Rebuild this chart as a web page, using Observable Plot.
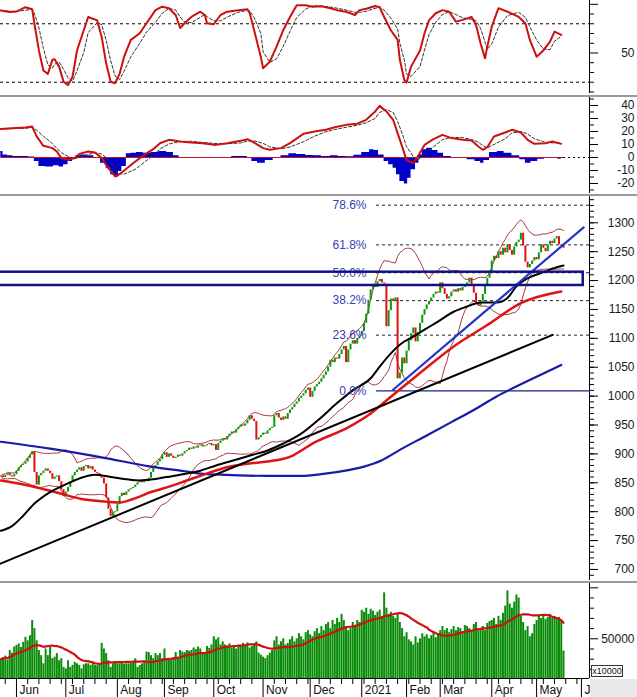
<!DOCTYPE html>
<html><head><meta charset="utf-8">
<script src="https://cdn.jsdelivr.net/npm/d3@7"></script>
<script src="https://cdn.jsdelivr.net/npm/@observablehq/plot@0.6"></script>
<style>
html,body{margin:0;padding:0;background:#fff;}
#chart{position:relative;width:637px;height:697px;overflow:hidden;font-family:"Liberation Sans",Arial,Helvetica,sans-serif;background:#fff;}
.sep{position:absolute;left:0;width:637px;height:2px;background:#9a9a9a;}
.unit{position:absolute;left:591px;top:665px;width:32px;height:12px;box-sizing:border-box;border:1px solid #333;font-size:9px;line-height:10px;text-align:center;color:#111;background:#fff;}
.corner{position:absolute;left:590px;top:679px;width:47px;height:18px;background:#e9e9e9;}
</style></head>
<body><div id="chart"></div>
<script>
// ---------- DATA ----------
// trading-day index 0 = 21 May 2020
const closes = [
862,859,863,866,862,860,864,870,876,880,
882,886,892,898,904,868,846,862,866,870,
874,870,866,856,860,862,852,838,826,834,
842,852,862,868,872,876,870,878,880,874,
878,872,868,866,862,858,848,824,804,792,
798,800,812,826,832,828,834,838,840,842,
846,850,852,850,854,852,858,868,876,880,
886,890,898,902,894,900,896,892,894,898,
896,900,904,906,910,908,912,910,914,916,
912,914,916,918,914,916,906,918,922,926,
924,930,934,938,936,942,946,950,948,952,
958,966,960,956,924,928,932,936,934,940,
944,946,966,970,962,958,964,960,970,976,
980,986,990,996,1000,1004,1010,1014,998,1008,
1016,1020,1024,1030,1036,1042,1050,1062,1058,1066,
1064,1072,1080,1086,1058,1080,1090,1096,1090,1100,
1104,1112,1126,1142,1166,1184,1192,1188,1198,1202,
1196,1194,1120,1148,1168,1164,1170,1030,1040,1066,
1056,1078,1096,1108,1118,1094,1110,1126,1140,1150,
1158,1164,1170,1176,1180,1178,1196,1186,1176,1168,
1172,1180,1184,1180,1186,1182,1188,1190,1196,1204,
1192,1178,1160,1156,1164,1176,1190,1204,1214,1234,
1242,1238,1250,1244,1256,1248,1262,1252,1244,1258,
1266,1270,1282,1260,1232,1222,1228,1234,1240,1236,
1248,1262,1256,1250,1262,1268,1264,1272,1276,1262,
1260,1256];

const volumes = [
30000,31500,33000,29000,38500,36000,42000,43500,45000,41500,
46500,51500,48000,53000,68000,60000,48000,38500,33500,25500,
40000,33500,42000,30500,32000,35500,28500,30500,22000,20500,
28500,22000,24000,27000,25500,24000,20500,24500,25500,25500,
24000,25500,24000,23500,25000,45500,40000,35500,28500,22000,
25500,26000,25500,25500,26000,25000,25500,25500,26000,27000,
30500,22000,23800,25500,27000,37000,36500,33500,30500,35500,
33500,35500,30500,40000,30500,29500,29500,31500,36500,31500,
38500,37000,36500,38500,37800,38500,41000,39500,42000,40000,
36500,35000,42500,40500,44000,52000,49000,51000,44000,47000,
44000,43000,45000,41000,42000,40000,44000,43000,45500,44500,
46000,41000,42500,45000,47000,36000,34000,32000,30500,33500,
36000,38500,48000,52000,44000,47000,50000,44000,45500,49000,
52000,47000,50000,55000,52000,49000,56000,58000,54000,52000,
57000,60000,55000,62000,58000,64000,66000,60000,68000,64000,
70000,66000,74000,68000,62000,58000,60000,66000,62000,68000,
66000,78000,76000,80000,74000,79000,77000,73000,76000,78000,
72000,95000,80000,74000,76000,72000,70000,75000,66000,60000,
52000,56000,49000,47000,44000,52000,46000,50000,55000,52000,
54000,50000,53000,56000,51000,55000,58000,62000,58000,60000,
56000,59000,62000,58000,61000,60000,57000,63000,62000,60000,
58000,64000,66000,58000,60000,62000,58000,65000,67000,68000,
70000,64000,72000,68000,75000,82000,97000,84000,80000,86000,
93000,90000,72000,66000,58000,62000,52000,55000,64000,68000,
72000,70000,73000,69000,71000,74000,70000,72000,69000,71000,
68000,38000];

// moving averages (day index, value)
const maBlackDays = [0,5,10,15,22,30,37,42,49,56,62,68,74,83,89,96,104,112,119,126,134,142,150,157,165,169,174,178,184,189,195,202,208,214,221,226,230,235,241,248,251];
const maBlackVals = [767,775,793,814,834,849,860,864,860,856,854,856,860,866,871,880,889,898,906,918,935,960,988,1010,1031,1051,1074,1089,1103,1115,1129,1146,1155,1162,1162,1170,1190,1204,1213,1223,1226];
const maRedDays = [0,9,18,27,36,45,53,59,67,74,83,89,100,110,119,129,140,155,165,174,187,202,217,232,250];
const maRedVals = [854,848,840,831,822,818,816,822,834,842,854,862,876,883,887,895,920,946,970,999,1040,1086,1123,1161,1181];
const maBlueDays = [0,22,45,67,82,89,98,119,134,143,155,162,170,178,190,201,211,221,235,250];
const maBlueVals = [921,909,894,878,870,866,864,862,862,865,872,878,889,907,932,955,976,999,1026,1054];

// trend lines (day, value)
const trendBlueDays = [175, 260];
const trendBlueVals = [1011, 1292];
const trendBlackDays = [-0.13, 246.2];
const trendBlackVals = [710, 1106];

// resistance zone
const zoneDays = [-3, 259.8];
const zoneVals = [1191.5, 1214.5];

// Fibonacci retracement
const fibLevels = [0, 23.6, 38.2, 50, 61.8, 78.6];
const fibLow = 1009, fibHigh = 1418, fibStartDay = 167.6;

// oscillator (top panel)
const oscDays = [0,4,7,11,14,15,17,19,21,23,24,26,28,30,32,34,37,39,43,45,47,49,51,53,55,58,62,65,69,72,75,78,80,82,85,89,91,92,95,98,101,106,110,111,113,116,117,120,123,126,129,132,136,139,143,147,150,154,158,160,163,167,169,171,174,177,178,180,181,183,187,189,191,194,197,200,203,206,210,212,214,216,217,219,222,226,231,234,236,239,242,245,247,250];
const oscVals = [93.7,92,92.5,97,95,80,52.6,32,28.6,43,43.5,36,20.5,17,25.6,52.6,73.4,87,83.5,66.5,39.4,20.5,19,28.6,46.2,63.5,70.3,80.5,94,97.5,96,89,75.7,80.5,87,92.4,89,80.5,79.5,89,92.4,94,95,91,73.4,46,34.3,41,56.5,73.4,87,99,99,97.5,98,96,94,92.4,89,94,95.5,98.3,97,87,73.4,63.4,43,22.3,19.6,36,52.6,70.3,83.5,90.8,94,92.4,82.2,84,87,78.8,60,44.5,56.5,77,96,92.4,87,80.5,63.4,46.2,52.6,61.6,71.9,68.5];
const oscLevels = [80, 20];

// MACD
const macdDays = [0,5,11,14,16,19,23,25,27,30,33,35,39,42,45,48,51,52,55,60,64,68,71,75,80,85,90,96,101,107,110,113,117,120,125,129,135,140,145,149,154,159,163,167,169,172,175,177,179,181,184,186,189,193,197,201,206,210,213,215,217,220,225,228,232,235,238,243,246,250];
const macdVals = [22,22.5,23,23.8,16.2,9,7.2,4.6,-0.5,-1.8,-0.5,2.8,4.6,3.8,-0.5,-8.2,-14.6,-14,-10,-3.1,2,6.4,11,13.6,12.3,11.5,11,9.7,11,12.8,14.1,11.5,7.2,5.9,7.2,11,18.2,20,21.3,23.3,25.1,26,29,35.4,39.7,35.4,29,18.7,8.5,-2,-4.4,0.8,9.7,14.1,17.4,14.9,13.6,13.1,8.5,5.9,7.9,16.2,19.2,21.3,19.2,13.6,10.5,11,12.3,10.5];
const histDays = [0,2,4,7,11,14,16,18,22,25,27,29,31,33,34,37,40,43,46,48,50,52,53,55,57,59,62,65,69,72,76,78,81,85,91,94,98,101,105,109,111,113,116,120,123,127,130,134,138,141,145,149,152,156,159,163,166,167,170,172,174,176,177,179,181,182,184,186,187,189,191,194,196,199,203,206,210,213,215,216,220,223,226,230,233,235,238,241,244,247,250];
const histVals = [4.6,2,1.3,0.8,0.8,0.3,-3,-6.9,-7.4,-6.4,-7.4,-5.6,-3,-0.5,1.3,2,1.3,-0.5,-4.4,-8.2,-13.3,-14.6,-10.8,-6.9,2.8,3.3,3.8,3.3,3.8,4.6,3.8,1.3,0,-0.5,0,-0.8,-0.3,0,0.8,0.8,-0.5,-3,-4.4,-2.3,-0.5,1.3,2.8,2.3,1.5,1.3,0.8,1.3,0.8,0.5,1.8,3.8,5.9,5.4,2,-3,-5.6,-8.2,-13.3,-18.5,-20.3,-15.9,-9.5,-4.4,2,5.9,7.2,5.4,3.3,0.8,-0.5,-0.8,-1.8,-3,-4.4,-2.3,3.8,4.6,3.3,1.3,-1.8,-4.4,-3,-1.3,-0.3,-0.5,-1.3];

// axis ticks and labels
const monthDays = [7,29,52,73,95,117,138,161,181,196,219,239,259];
const monthLabels = ["Jun","Jul","Aug","Sep","Oct","Nov","Dec","2021","Feb","Mar","Apr","May","J"];
const priceMajor = [700,750,800,850,900,950,1000,1050,1100,1150,1200,1250,1300];
const priceMinor = d3.range(690, 1341, 10);
const oscMajor = [50, 100];
const oscMinor = [10,20,30,40,60,70,80,90];
const oscLabels = [50];
const macdMajor = [-20,-10,0,10,20,30,40];
const macdMinor = [-25,-15,-5,5,15,25,35,45];
const volMajor = [50000, 100000];
const volMinor = [20000,30000,40000,60000,70000,80000,90000];
const volLabels = [50000];
const unitLabel = "x10000";

// ---------- LAYOUT ----------
const W = 637, MR = 48;
const xDomain = [-0.13, 262.6];
const FONT = "'Liberation Sans', Arial, Helvetica, sans-serif";
const UP = "#0a9a0a", DOWN = "#e01010";

function panel(height, yDomain, marks) {
  return Plot.plot({
    width: W, height,
    marginLeft: 0, marginRight: MR, marginTop: 0, marginBottom: 0,
    x: {domain: xDomain, axis: null},
    y: {domain: yDomain, axis: null},
    style: {fontFamily: FONT, fontSize: "12px", background: "transparent"},
    marks
  });
}
function rightAxis(major, minor, labels, fmt) {
  return [
    Plot.ruleX([xDomain[1]], {stroke: "#000", strokeWidth: 1}),
    Plot.axisY({anchor: "right", ticks: minor, tickSize: 4, tickFormat: () => "", label: null, stroke: "#000"}),
    Plot.axisY({anchor: "right", ticks: major, tickSize: 8, tickFormat: () => "", label: null, stroke: "#000"}),
    Plot.text(labels, {y: d => d, text: fmt, frameAnchor: "right", dx: 45, textAnchor: "end", fill: "#1a1a1a", fontSize: 12})
  ];
}
const zip = (a, b) => a.map((d, i) => ({day: d, v: b[i]}));

const chart = document.getElementById("chart");
function place(el, top) {
  el.style.position = "absolute"; el.style.left = "0px"; el.style.top = top + "px";
  chart.appendChild(el);
}

// ----- oscillator panel -----
const oscRows = zip(oscDays, oscVals);
place(panel(93, [8.4, 103.9], [
  Plot.ruleY(oscLevels, {stroke: "#000", strokeDasharray: "3,3", strokeWidth: 1}),
  Plot.lineY(oscRows, Plot.windowY({k: 3, anchor: "end", strict: false, reduce: "mean"}, {x: "day", y: "v", stroke: "#333", strokeWidth: 1, strokeDasharray: "3,2"})),
  Plot.line(oscRows, {x: "day", y: "v", stroke: "#cc1010", strokeWidth: 2}),
  ...rightAxis(oscMajor, oscMinor, oscLabels, d => String(d))
]), 0);

// ----- MACD panel -----
const macdRows = zip(macdDays, macdVals);
const histRows = zip(histDays, histVals);
const lastDay = closes.length - 1;
place(panel(96, [-27.7, 46.15], [
  Plot.areaY(histRows, {x: "day", y: "v", fill: "#0000c8", curve: "step"}),
  Plot.ruleY([0], {x1: 0, x2: lastDay, stroke: "#c8102e", strokeWidth: 1}),
  Plot.ruleY([0], {x1: lastDay, x2: xDomain[1], stroke: "#000", strokeDasharray: "2,3"}),
  Plot.lineY(macdRows, Plot.windowY({k: 3, anchor: "end", strict: false, reduce: "mean"}, {x: "day", y: "v", stroke: "#333", strokeWidth: 1, strokeDasharray: "3,2"})),
  Plot.line(macdRows, {x: "day", y: "v", stroke: "#cc1010", strokeWidth: 2}),
  ...rightAxis(macdMajor, macdMinor, macdMajor, d => String(d))
]), 97);

// ----- price panel -----
const priceRows = closes.map((c, i) => ({day: i, close: c, open: i ? closes[i - 1] : c}));
const band = s => vals => d3.mean(vals) + s * 2 * (d3.deviation(vals) || 0);
const fibRows = fibLevels.map(l => ({level: l, value: fibLow + (fibHigh - fibLow) * l / 100}));
place(panel(384, [680.9, 1345.5], [
  Plot.ruleY(fibRows.filter(d => d.level > 0), {y: "value", x1: fibStartDay, x2: xDomain[1], stroke: "#222", strokeDasharray: "3,3", strokeWidth: 1}),
  Plot.ruleY(fibRows.filter(d => d.level === 0), {y: "value", x1: fibStartDay, x2: xDomain[1], stroke: "#1c1c96", strokeWidth: 1.2}),
  Plot.lineY(priceRows, Plot.windowY({k: 20, anchor: "end", strict: false, reduce: band(1)}, {x: "day", y: "close", stroke: "#a83838", strokeWidth: 1})),
  Plot.lineY(priceRows, Plot.windowY({k: 20, anchor: "end", strict: false, reduce: band(-1)}, {x: "day", y: "close", stroke: "#a83838", strokeWidth: 1})),
  Plot.ruleX(priceRows, {x: "day", y1: "open", y2: "close", stroke: d => d.close >= d.open ? UP : DOWN, strokeWidth: 2}),
  Plot.line(zip(maBlueDays, maBlueVals), {x: "day", y: "v", stroke: "#1a1aa8", strokeWidth: 2.2, curve: "monotone-x"}),
  Plot.line(zip(maRedDays, maRedVals), {x: "day", y: "v", stroke: "#e01414", strokeWidth: 2.5, curve: "monotone-x"}),
  Plot.line(zip(maBlackDays, maBlackVals), {x: "day", y: "v", stroke: "#000", strokeWidth: 2, curve: "monotone-x"}),
  Plot.line(zip(trendBlackDays, trendBlackVals), {x: "day", y: "v", stroke: "#000", strokeWidth: 2}),
  Plot.line(zip(trendBlueDays, trendBlueVals), {x: "day", y: "v", stroke: "#1f35cc", strokeWidth: 2.2}),
  Plot.text(fibRows, {x: fibStartDay, y: "value", text: d => d.level.toFixed(1) + "%", textAnchor: "end", dx: -10, fill: "#3c3cb4", fontSize: 12}),
  Plot.rect([0], {x1: zoneDays[0], x2: zoneDays[1], y1: zoneVals[0], y2: zoneVals[1], fill: "none", stroke: "#10108c", strokeWidth: 2.5}),
  ...rightAxis(priceMajor, priceMinor, priceMajor, d => String(d))
]), 196);

// ----- volume panel -----
const volRows = volumes.map((v, i) => ({day: i, vol: v}));
const volDomain = [11080, 104200];
place(panel(95, volDomain, [
  Plot.ruleX(volRows, {x: "day", y1: volDomain[0], y2: "vol", stroke: "#0a8c0a", strokeWidth: 2}),
  Plot.lineY(volRows, Plot.windowY({k: 20, anchor: "end", strict: false, reduce: "mean"}, {x: "day", y: "vol", stroke: "#d01010", strokeWidth: 2.2})),
  ...rightAxis(volMajor, volMinor, volLabels, d => String(d))
]), 583);

// ----- time axis -----
const weekDays = d3.range(2, 262, 5).filter(d => !monthDays.includes(d));
place(Plot.plot({
  width: W, height: 20, marginLeft: 0, marginRight: MR, marginTop: 0, marginBottom: 0,
  x: {domain: xDomain, axis: null},
  y: {domain: [0, 20], range: [0, 20], axis: null},
  style: {fontFamily: FONT, fontSize: "12px", background: "transparent"},
  marks: [
    Plot.ruleY([1], {stroke: "#000"}),
    Plot.ruleX(weekDays, {x: d => d, y1: 1, y2: 7, stroke: "#000"}),
    Plot.ruleX(monthDays, {x: d => d, y1: 1, y2: 20, stroke: "#000"}),
    Plot.text(monthLabels, {x: (d, i) => monthDays[i], y: 13, text: d => d, dx: 3, textAnchor: "start", fill: "#111", fontSize: 12})
  ]
}), 677);

// separators and decorations
[95, 194, 581].forEach(t => { const s = document.createElement("div"); s.className = "sep"; s.style.top = t + "px"; chart.appendChild(s); });
const corner = document.createElement("div"); corner.className = "corner"; chart.appendChild(corner);
const unit = document.createElement("div"); unit.className = "unit"; unit.textContent = unitLabel; chart.appendChild(unit);
</script>
</body></html>
